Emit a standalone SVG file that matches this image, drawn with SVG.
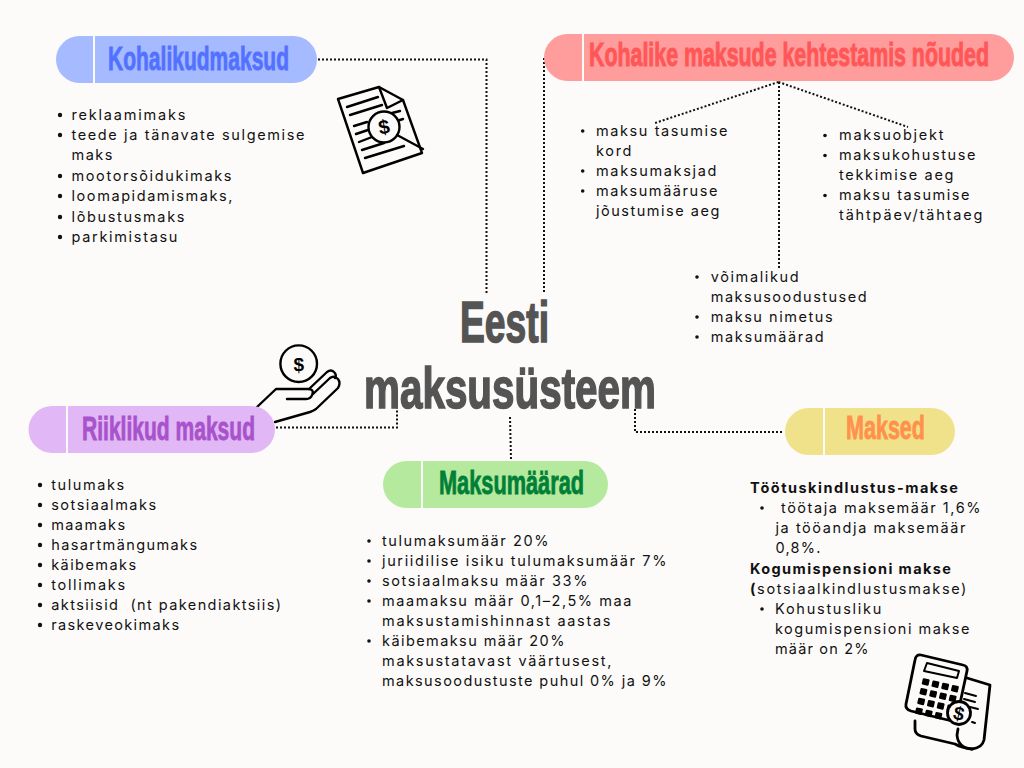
<svg xmlns="http://www.w3.org/2000/svg" width="1024" height="768" viewBox="0 0 1024 768">
<style>
.b{font-family:"Inter","Liberation Sans",sans-serif;font-size:14.5px;letter-spacing:1.1px;fill:#111}
.bb{font-family:"Inter","Liberation Sans",sans-serif;font-size:14.5px;font-weight:700;fill:#111}
.h{font-family:"Liberation Sans",Arial,sans-serif;font-weight:700;font-size:32.5px;stroke-width:.8px}
.t{font-family:"Liberation Sans",Arial,sans-serif;font-weight:700;font-size:58px;fill:#545454;stroke:#545454;stroke-width:1.6px}
.d{fill:none;stroke:#111;stroke-width:2;stroke-dasharray:2 2}
.i{fill:none;stroke:#000;stroke-width:2.4;stroke-linecap:round;stroke-linejoin:round}
.s{font-family:"Liberation Sans",Arial,sans-serif;font-weight:700;fill:#000;text-anchor:middle}
.div{stroke:#fcfbf9;stroke-width:2}
circle.u{fill:#111}
</style>
<rect width="1024" height="768" fill="#fcfbf9"/>
<g id="connectors">
<path class="d" d="M318 59.500H486.500V295"/>
<path class="d" d="M544 58V293"/>
<path class="d" d="M778.500 82L655 123"/>
<path class="d" d="M778.500 82L908 127"/>
<path class="d" d="M779 82V268"/>
<path class="d" d="M276 427.500H397V407"/>
<path class="d" d="M510 417L511 460"/>
<path class="d" d="M635 409V432H784"/>
</g>
<g id="icon-document" class="i">
<path d="M338 99L379 87L403 100L422 153L363 173Z"/>
<path d="M379 87L387 108L403 100"/>
<path d="M347 107L378 97M350 115L382 105M354 126L367 122M392 113L400 111M356 134L368 130M397 121L403 119M359 142L372 137M362 150L384 143M365 158L404 146"/>
<circle cx="384" cy="127" r="15.500" fill="#fcfbf9"/>
<path d="M397 135L423 149"/>
<text class="s" x="384" y="134" font-size="20" stroke="none" fill="#000" transform="rotate(-10 384 127)">$</text>
</g>
<g id="icon-hand" class="i">
<circle cx="298.700" cy="363.700" r="18.300"/>
<text class="s" x="298.700" y="370.500" font-size="19" stroke="none" fill="#000">$</text>
<path d="M257 407L276 389H308Q314 389 312.500 394Q311 399 306 399H287"/>
<path d="M275 422L310 412Q313 411 316 409L338 388Q341 383 338 379Q334 375 330 378L313 394"/>
<path d="M309 389L327 372Q331 369 334 372Q337 375 335 378"/>
</g>
<g id="icon-calculator" class="i" style="stroke-width:2.8px">
<path d="M915 721V729Q915 734 921 736L955 744Q962 748 972 749"/>
<path d="M967 678L990 685L984 740Q982 748 972 749Q958 748 957 735L958 729"/>
<path d="M965 693L976 696M964 699L975 702M970 707L978 709M972 722L975 723" style="stroke-width:2px"/>
<path d="M921 655L963 665Q968 666 967 671L956 722L911 711Q905 709 906 704L915 660Q916 654 921 655Z" fill="#fcfbf9"/>
<path d="M927 663L959 671L957 678L924 671Z" style="stroke-width:2px"/>
<g fill="#000" stroke="none">
<g transform="translate(923 678) rotate(13)"><rect width="7" height="6.500" rx="1"/><rect x="10" width="7" height="6.500" rx="1"/><rect x="20" width="7" height="6.500" rx="1"/><rect x="30" width="7" height="6.500" rx="1"/><rect y="10" width="7" height="6.500" rx="1"/><rect x="10" y="10" width="7" height="6.500" rx="1"/><rect x="20" y="10" width="7" height="6.500" rx="1"/><rect x="30" y="10" width="7" height="6.500" rx="1"/><rect y="20" width="7" height="6.500" rx="1"/><rect x="10" y="20" width="7" height="6.500" rx="1"/><rect x="20" y="20" width="7" height="6.500" rx="1"/><rect x="30" y="20" width="7" height="6.500" rx="1"/><rect y="30" width="7" height="6.500" rx="1"/><rect x="10" y="30" width="7" height="6.500" rx="1"/><rect x="20" y="30" width="7" height="6.500" rx="1"/></g>
</g>
<circle cx="959" cy="713" r="11.500" fill="#fcfbf9"/>
<text class="s" x="959" y="720" font-size="19" stroke="none" fill="#000" transform="rotate(13 959 713)">$</text>
</g>
<g id="node-kohalikud">
<rect x="56" y="36" width="261" height="47" rx="23.500" fill="#a6baff"/>
<path class="div" d="M94 36V83"/>
<text class="h" x="108" y="70" fill="#5271ff" stroke="#5271ff" textLength="181" lengthAdjust="spacingAndGlyphs">Kohalikudmaksud</text>
<g>
<circle class="u" cx="60" cy="115" r="2.200"/><circle class="u" cx="60" cy="135" r="2.200"/><circle class="u" cx="60" cy="176" r="2.200"/><circle class="u" cx="60" cy="196" r="2.200"/><circle class="u" cx="60" cy="217" r="2.200"/><circle class="u" cx="60" cy="237" r="2.200"/>
<text class="b" x="71.500" y="120" textLength="115">reklaamimaks</text>
<text class="b" x="71.500" y="140" textLength="234">teede ja tänavate sulgemise</text>
<text class="b" x="71.500" y="160" textLength="42">maks</text>
<text class="b" x="71.500" y="181" textLength="161">mootorsõidukimaks</text>
<text class="b" x="71.500" y="201" textLength="162">loomapidamismaks,</text>
<text class="b" x="71.500" y="222" textLength="114">lõbustusmaks</text>
<text class="b" x="71.500" y="242" textLength="107">parkimistasu</text>
</g>
</g>
<g id="node-kehtestamis">
<rect x="544" y="34" width="470" height="47" rx="23.500" fill="#ff9d9d"/>
<path class="div" d="M583 34V81"/>
<text class="h" transform="translate(589 66) scale(.7 1)" x="0" y="0" style="stroke-width:1px" fill="#ff5757" stroke="#ff5757" textLength="571.400" lengthAdjust="spacingAndGlyphs">Kohalike maksude kehtestamis nõuded</text>
<g>
<circle class="u" cx="582.700" cy="131" r="1.800"/><circle class="u" cx="582.700" cy="171" r="1.800"/><circle class="u" cx="582.700" cy="191" r="1.800"/>
<text class="b" x="596" y="136" textLength="132.500">maksu tasumise</text>
<text class="b" x="596" y="156" textLength="36.500">kord</text>
<text class="b" x="596" y="176" textLength="121.500">maksumaksjad</text>
<text class="b" x="596" y="196" textLength="122.500">maksumääruse</text>
<text class="b" x="596" y="216" textLength="124.500">jõustumise aeg</text>
<circle class="u" cx="825" cy="135.500" r="1.800"/><circle class="u" cx="825" cy="155.500" r="1.800"/><circle class="u" cx="825" cy="195.500" r="1.800"/>
<text class="b" x="839" y="140" textLength="105.500">maksuobjekt</text>
<text class="b" x="839" y="160" textLength="137.500">maksukohustuse</text>
<text class="b" x="839" y="180" textLength="115.500">tekkimise aeg</text>
<text class="b" x="839" y="200" textLength="131.500">maksu tasumise</text>
<text class="b" x="839" y="220" textLength="144.500">tähtpäev/tähtaeg</text>
<circle class="u" cx="697" cy="277" r="1.800"/><circle class="u" cx="697" cy="317" r="1.800"/><circle class="u" cx="697" cy="337" r="1.800"/>
<text class="b" x="710.700" y="282" textLength="89">võimalikud</text>
<text class="b" x="710.700" y="302" textLength="157">maksusoodustused</text>
<text class="b" x="710.700" y="322" textLength="123">maksu nimetus</text>
<text class="b" x="710.700" y="342" textLength="114">maksumäärad</text>
</g>
</g>
<g id="node-title">
<text class="t" x="460" y="342" textLength="89" lengthAdjust="spacingAndGlyphs">Eesti</text>
<text class="t" x="364" y="408" textLength="292" lengthAdjust="spacingAndGlyphs">maksusüsteem</text>
</g>
<g id="node-riiklikud">
<rect x="28.500" y="406" width="246.500" height="47" rx="23.500" fill="#e2b7f5"/>
<path class="div" d="M67 406V453"/>
<text class="h" x="82" y="440" fill="#a852cc" stroke="#a852cc" textLength="173" lengthAdjust="spacingAndGlyphs">Riiklikud maksud</text>
<g>
<circle class="u" cx="40" cy="485" r="2.200"/><circle class="u" cx="40" cy="505" r="2.200"/><circle class="u" cx="40" cy="525" r="2.200"/><circle class="u" cx="40" cy="545" r="2.200"/><circle class="u" cx="40" cy="565" r="2.200"/><circle class="u" cx="40" cy="585" r="2.200"/><circle class="u" cx="40" cy="605" r="2.200"/><circle class="u" cx="40" cy="625" r="2.200"/>
<text class="b" x="51.200" y="490" textLength="74">tulumaks</text>
<text class="b" x="51.200" y="510" textLength="106">sotsiaalmaks</text>
<text class="b" x="51.200" y="530" textLength="75">maamaks</text>
<text class="b" x="51.200" y="550" textLength="147">hasartmängumaks</text>
<text class="b" x="51.200" y="570" textLength="86">käibemaks</text>
<text class="b" x="51.200" y="590" textLength="75">tollimaks</text>
<text class="b" x="51.200" y="610" textLength="231" xml:space="preserve">aktsiisid  (nt pakendiaktsiis)</text>
<text class="b" x="51.200" y="630" textLength="129">raskeveokimaks</text>
</g>
</g>
<g id="node-maksumaarad">
<rect x="383" y="461" width="225" height="47" rx="23.500" fill="#b5e99d"/>
<path class="div" d="M422 461V508"/>
<text class="h" x="439" y="494" fill="#008037" stroke="#008037" textLength="145" lengthAdjust="spacingAndGlyphs">Maksumäärad</text>
<g>
<circle class="u" cx="369" cy="541" r="1.800"/><circle class="u" cx="369" cy="561" r="1.800"/><circle class="u" cx="369" cy="581" r="1.800"/><circle class="u" cx="369" cy="601" r="1.800"/><circle class="u" cx="369" cy="641" r="1.800"/>
<text class="b" x="382" y="546" textLength="167.500">tulumaksumäär 20%</text>
<text class="b" x="382" y="566" textLength="285.500">juriidilise isiku tulumaksumäär 7%</text>
<text class="b" x="382" y="586" textLength="206.500">sotsiaalmaksu määr 33%</text>
<text class="b" x="382" y="606" textLength="250.500">maamaksu määr 0,1–2,5% maa</text>
<text class="b" x="382" y="626" textLength="229.500">maksustamishinnast aastas</text>
<text class="b" x="382" y="646" textLength="183.500">käibemaksu määr 20%</text>
<text class="b" x="382" y="666" textLength="230.500">maksustatavast väärtusest,</text>
<text class="b" x="382" y="686" textLength="285.500">maksusoodustuste puhul 0% ja 9%</text>
</g>
</g>
<g id="node-maksed">
<rect x="785" y="408" width="170" height="47" rx="23.500" fill="#f0e28a"/>
<path class="div" d="M824 408V455"/>
<text class="h" x="846" y="439" fill="#ff914d" stroke="#ff914d" textLength="79" lengthAdjust="spacingAndGlyphs">Maksed</text>
<g>
<circle class="u" cx="762" cy="508" r="1.800"/><circle class="u" cx="762" cy="609" r="1.800"/>
<text class="bb" x="750" y="493" textLength="208">Töötuskindlustus-makse</text>
<text class="b" x="781" y="513" textLength="200.500">töötaja maksemäär 1,6%</text>
<text class="b" x="775.500" y="533" textLength="191">ja tööandja maksemäär</text>
<text class="b" x="775.500" y="553" textLength="46">0,8%.</text>
<text class="bb" x="750" y="574" textLength="201">Kogumispensioni makse</text>
<text class="b" x="750" y="594" textLength="217.500"><tspan font-weight="700">(</tspan>sotsiaalkindlustusmakse)</text>
<text class="b" x="775" y="614" textLength="107.500">Kohustusliku</text>
<text class="b" x="775" y="634" textLength="195.500">kogumispensioni makse</text>
<text class="b" x="775" y="654" textLength="94.500">määr on 2%</text>
</g>
</g>
</svg>
